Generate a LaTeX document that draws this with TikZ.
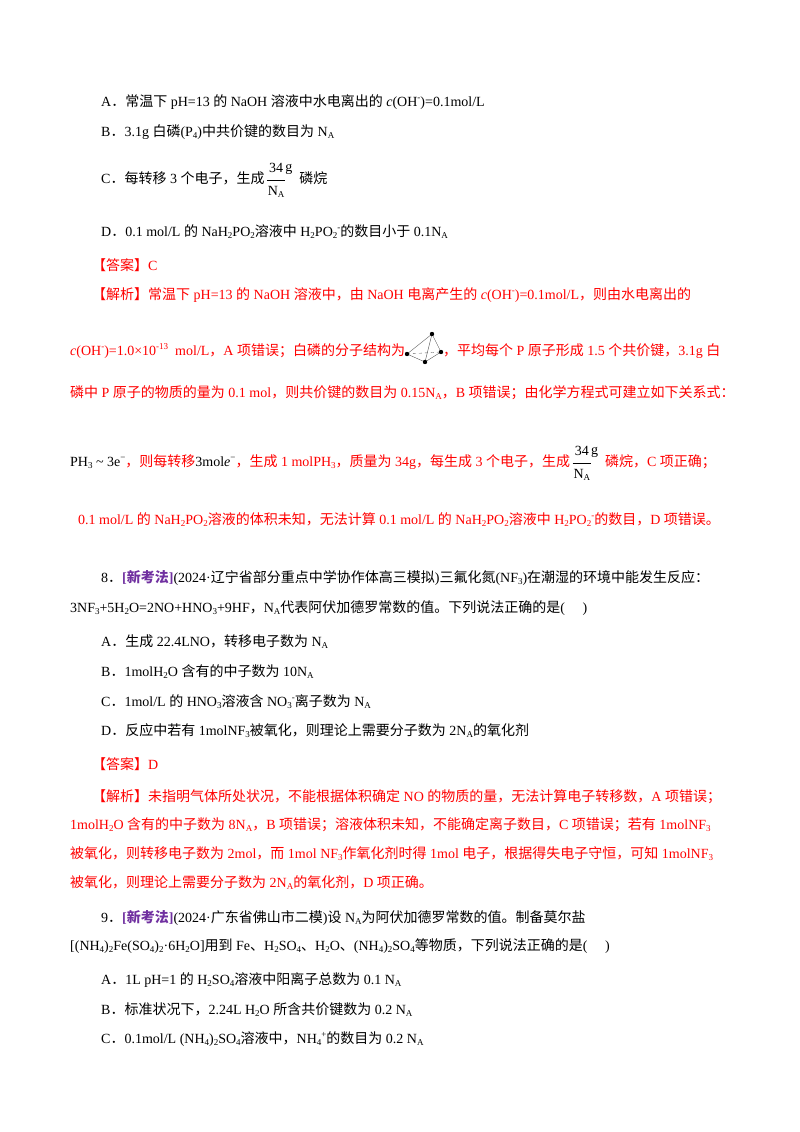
\documentclass[tikz,border=0pt]{standalone}
\usepackage{fontspec}
\usepackage{amsmath}
\setmainfont{Liberation Serif}
\newfontfamily\cjkf{Noto Sans CJK SC}
\newfontfamily\latf{Liberation Serif}
\XeTeXinterchartokenstate=1
\newXeTeXintercharclass\cjkc
\count255="4E00
\loop\ifnum\count255<"A000 \XeTeXcharclass\count255=\cjkc \advance\count255 by 1 \repeat
\count255="3000
\loop\ifnum\count255<"3040 \XeTeXcharclass\count255=\cjkc \advance\count255 by 1 \repeat
\count255="FF00
\loop\ifnum\count255<"FFF0 \XeTeXcharclass\count255=\cjkc \advance\count255 by 1 \repeat
\XeTeXinterchartoks 0 \cjkc = {\cjkf}
\XeTeXinterchartoks 4095 \cjkc = {\cjkf}
\XeTeXinterchartoks \cjkc 0 = {\latf}
\XeTeXinterchartoks \cjkc 4095 = {\latf}
\newcommand\sub[1]{\raisebox{-0.35ex}{\fontsize{9}{9}\selectfont #1}}
\newcommand\sups[1]{\raisebox{0.85ex}{\fontsize{9}{9}\selectfont #1}}
\newcommand\NA{N\sub{A}}
\newcommand\frg{\,\raisebox{-0.3ex}{\setlength{\tabcolsep}{1pt}\begin{tabular}{c}34\\[3pt]\hline\rule{0pt}{15pt}\NA\end{tabular}}\raisebox{1.8ex}{g}\ \ }
\definecolor{ans}{RGB}{255,0,0}
\definecolor{xkf}{RGB}{112,48,160}
\newcommand\xk{\textcolor{xkf}{\textbf{[新考法]}}}
\begin{document}
\begin{tikzpicture}[x=1pt,y=-1pt,
  txt/.style={anchor=base west,inner sep=0,font=\fontsize{14}{14}\selectfont},
  red/.style={txt,text=ans}]
\useasboundingbox (0,0) rectangle (800,1132);
\node[txt] (a1) at (101,106) {A．常温下 pH=13 的 NaOH 溶液中水电离出的 \textit{c}(OH\sups{-})=0.1mol/L};
\node[txt] (b1) at (101,136) {B．3.1g 白磷(P\sub{4})中共价键的数目为 \NA};
\node[txt] (c1) at (101,183) {C．每转移 3 个电子，生成\frg 磷烷};
\node[txt] (d1) at (101,236) {D．0.1 mol/L 的 NaH\sub{2}PO\sub{2}溶液中 H\sub{2}PO\sub{2}\sups{-}的数目小于 0.1\NA};
\node[red] (an1) at (92,270) {【答案】C};
\node[red] (j1) at (92,299) {【解析】常温下 pH=13 的 NaOH 溶液中，由 NaOH 电离产生的 \textit{c}(OH\sups{-})=0.1mol/L，则由水电离出的};
\node[red] (j2) at (70,355) {\textit{c}(OH\sups{-})=1.0×10\sups{-13}\ \ mol/L，A 项错误；白磷的分子结构为\hspace{38pt}，平均每个 P 原子形成 1.5 个共价键，3.1g 白};
\node[red] (j3) at (70,397) {磷中 P 原子的物质的量为 0.1 mol，则共价键的数目为 0.15\NA，B 项错误；由化学方程式可建立如下关系式：};
\node[red] (j4) at (70,466) {\textcolor{black}{PH\sub{3} \textasciitilde\ 3e\sups{−}}，则每转移\textcolor{black}{3mol\textit{e}\sups{−}}，生成 1 molPH\sub{3}，质量为 34g，每生成 3 个电子，生成\textcolor{black}{\frg}磷烷，C 项正确；};
\node[red] (j5) at (78,524) {0.1 mol/L 的 NaH\sub{2}PO\sub{2}溶液的体积未知，无法计算 0.1 mol/L 的 NaH\sub{2}PO\sub{2}溶液中 H\sub{2}PO\sub{2}\sups{-}的数目，D 项错误。};
% tetrahedron
\coordinate (tt) at (432,334); \coordinate (tl) at (407,354);
\coordinate (tr) at (441,352); \coordinate (tb) at (425,362);
\draw[gray!70!black,thin] (tt)--(tl) (tt)--(tr) (tt)--(tb) (tl)--(tb)--(tr);
\draw[gray!70!black,thin,dashed] (tl)--(tr);
\foreach \p in {tt,tl,tr,tb} \fill (\p) circle (2.2pt);
\node[txt] (q8) at (101,582) {8．\xk(2024·辽宁省部分重点中学协作体高三模拟)三氟化氮(NF\sub{3})在潮湿的环境中能发生反应：};
\node[txt] (q8b) at (70,612) {3NF\sub{3}+5H\sub{2}O=2NO+HNO\sub{3}+9HF，\NA 代表阿伏加德罗常数的值。下列说法正确的是(\quad\ )};
\node[txt] (a8) at (101,646) {A．生成 22.4LNO，转移电子数为 \NA};
\node[txt] (b8) at (101,676) {B．1molH\sub{2}O 含有的中子数为 10\NA};
\node[txt] (c8) at (101,706) {C．1mol/L 的 HNO\sub{3}溶液含 NO\sub{3}\sups{-}离子数为 \NA};
\node[txt] (d8) at (101,735) {D．反应中若有 1molNF\sub{3}被氧化，则理论上需要分子数为 2\NA 的氧化剂};
\node[red] (an8) at (92,769) {【答案】D};
\node[red] (k1) at (92,801) {【解析】未指明气体所处状况，不能根据体积确定 NO 的物质的量，无法计算电子转移数，A 项错误；};
\node[red] (k2) at (70,829) {1molH\sub{2}O 含有的中子数为 8\NA，B 项错误；溶液体积未知，不能确定离子数目，C 项错误；若有 1molNF\sub{3}};
\node[red] (k3) at (70,858) {被氧化，则转移电子数为 2mol，而 1mol NF\sub{3}作氧化剂时得 1mol 电子，根据得失电子守恒，可知 1molNF\sub{3}};
\node[red] (k4) at (70,887) {被氧化，则理论上需要分子数为 2\NA 的氧化剂，D 项正确。};
\node[txt] (q9) at (101,922) {9．\xk(2024·广东省佛山市二模)设 \NA 为阿伏加德罗常数的值。制备莫尔盐};
\node[txt] (q9b) at (70,950) {[(NH\sub{4})\sub{2}Fe(SO\sub{4})\sub{2}·6H\sub{2}O]用到 Fe、H\sub{2}SO\sub{4}、H\sub{2}O、(NH\sub{4})\sub{2}SO\sub{4}等物质，下列说法正确的是(\quad\ )};
\node[txt] (a9) at (101,984) {A．1L pH=1 的 H\sub{2}SO\sub{4}溶液中阳离子总数为 0.1 \NA};
\node[txt] (b9) at (101,1014) {B．标准状况下，2.24L H\sub{2}O 所含共价键数为 0.2 \NA};
\node[txt] (c9) at (101,1043) {C．0.1mol/L (NH\sub{4})\sub{2}SO\sub{4}溶液中，NH\sub{4}\sups{+}的数目为 0.2 \NA};
\end{tikzpicture}
\end{document}
